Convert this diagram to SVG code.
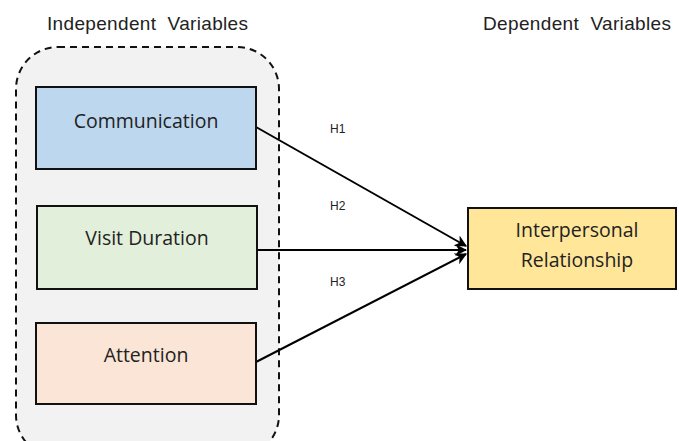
<svg xmlns="http://www.w3.org/2000/svg" width="679" height="441" viewBox="0 0 679 441">
<defs>
<style>
.hdr{font-family:"Liberation Sans",Arial,sans-serif;font-size:19px;fill:#222;white-space:pre}
.lbl{font-family:"Liberation Sans",Arial,sans-serif;font-size:12px;fill:#222}
.box{stroke:#111;stroke-width:2}
.bt{font-family:"Open Sans",Lato,sans-serif;font-size:19.5px;fill:#222;text-anchor:middle}
.edge{stroke:#000;stroke-width:2;fill:none;marker-end:url(#ah)}
</style>
<marker id="ah" viewBox="0 0 10 10" refX="9" refY="5" markerWidth="6" markerHeight="6" orient="auto" markerUnits="strokeWidth">
<path d="M0,0 L10,5 L0,10 L3,5 z" fill="#000"/>
</marker>
</defs>
<rect width="679" height="441" fill="#fff"/>
<text class="hdr" x="47" y="30" textLength="201" lengthAdjust="spacing">Independent  Variables</text>
<text class="hdr" x="483" y="30" textLength="188" lengthAdjust="spacing">Dependent  Variables</text>
<g id="container">
<rect x="16" y="47" width="263" height="410" rx="42" ry="42" fill="#f2f2f2" stroke="#111" stroke-width="2" stroke-dasharray="7,5"/>
</g>
<g id="connectors">
<line class="edge" x1="256" y1="127" x2="466" y2="246"/>
<line class="edge" x1="257" y1="250" x2="466" y2="250"/>
<line class="edge" x1="256" y1="362" x2="466" y2="254"/>
<text class="lbl" x="330" y="133">H1</text>
<text class="lbl" x="330" y="210">H2</text>
<text class="lbl" x="330" y="286">H3</text>
</g>
<g id="communication">
<rect class="box" x="36" y="87" width="220" height="82" fill="#bdd7ee"/>
<text class="bt" x="146" y="128">Communication</text>
</g>
<g id="visit-duration">
<rect class="box" x="37" y="206" width="220" height="83" fill="#e2efda"/>
<text class="bt" x="147" y="245">Visit Duration</text>
</g>
<g id="attention">
<rect class="box" x="36" y="323" width="220" height="81" fill="#fbe5d6"/>
<text class="bt" x="146" y="362">Attention</text>
</g>
<g id="interpersonal">
<rect class="box" x="468" y="208" width="208" height="81" fill="#ffe699"/>
<text class="bt" x="577" y="237">Interpersonal</text>
<text class="bt" x="577" y="267">Relationship</text>
</g>
</svg>
